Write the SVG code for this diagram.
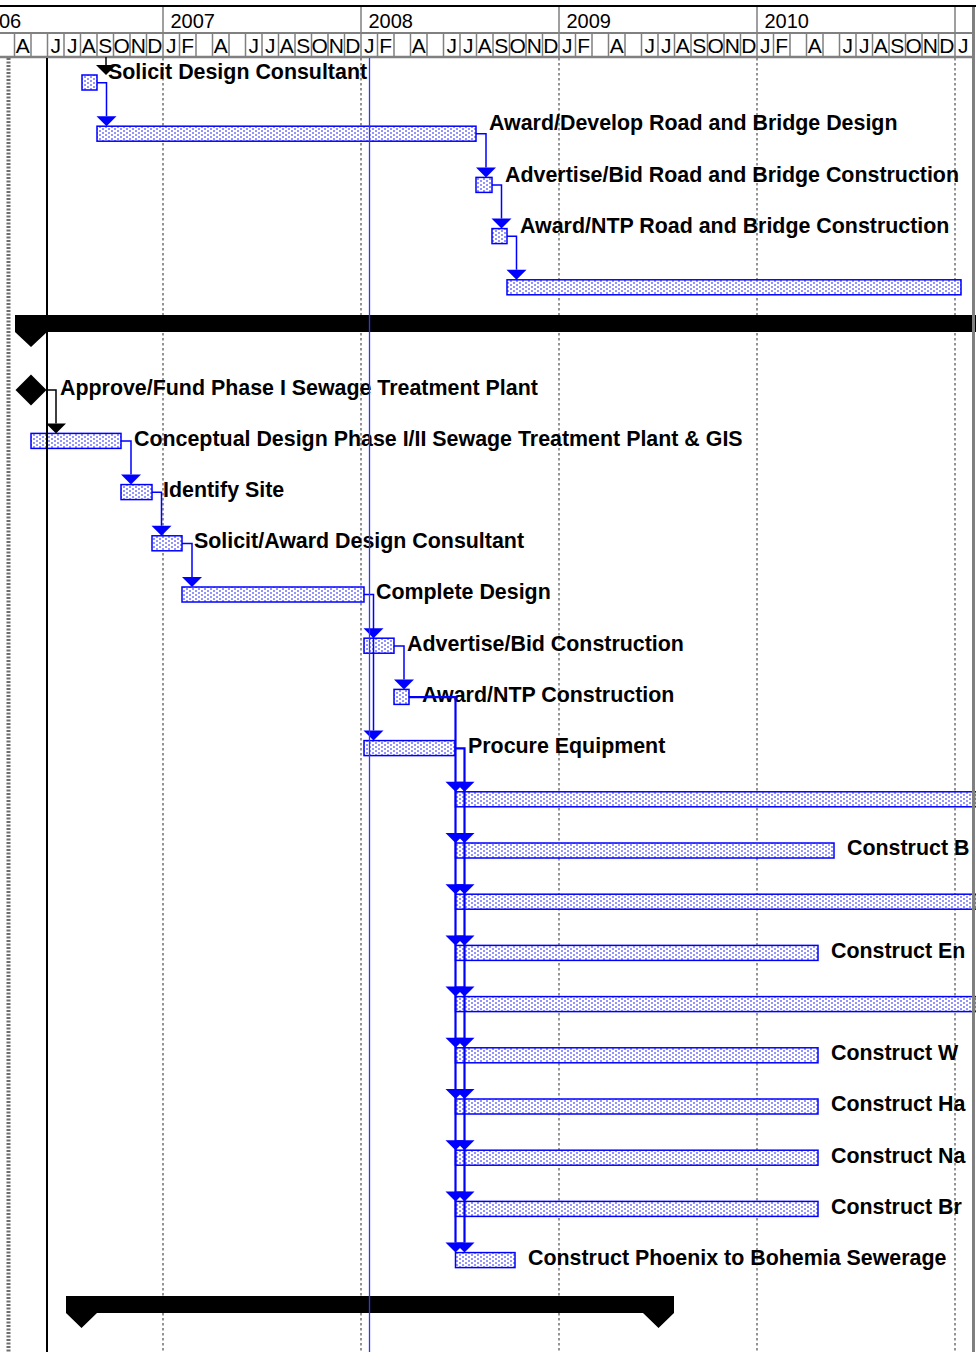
<svg xmlns="http://www.w3.org/2000/svg" width="976" height="1352" viewBox="0 0 976 1352">
<defs>
<pattern id="dots" width="6" height="4" patternUnits="userSpaceOnUse">
<rect width="6" height="4" fill="#fff"/>
<rect x="0" y="0.5" width="2" height="1" fill="#2a2aff"/>
<rect x="3" y="2.5" width="2" height="1" fill="#2a2aff"/>
</pattern>
</defs>
<style>
.bar{fill:url(#dots);stroke:#0000ff;stroke-width:1.5}
.lbl{font-family:"Liberation Sans",Arial,sans-serif;font-weight:bold;font-size:21.4px;fill:#000}
.hdr{font-family:"Liberation Sans",Arial,sans-serif;font-size:20px;fill:#000}
.mon{font-family:"Liberation Sans",Arial,sans-serif;font-size:21px;fill:#000;text-anchor:middle}
.grid{stroke:#7a7a7a;stroke-width:1.6;stroke-dasharray:2.5 2.5;fill:none}
.sep{stroke:#808080;stroke-width:1.5;fill:none}
.con{stroke:#0000ff;stroke-width:1.5;fill:none}
.con2{stroke:#0000ff;stroke-width:2.2;fill:none}
.arr{fill:#0000ff}
.blk{fill:#000}
</style>
<rect width="976" height="1352" fill="#fff"/>

<g id="timescale">
<line x1="0" y1="6" x2="976" y2="6" stroke="#000" stroke-width="2"/>
<path class="sep" d="M163,7V33M361,7V33M559,7V33M757,7V33M955,7V33"/>
<text class="hdr" x="-1" y="28">06</text>
<text class="hdr" x="170.5" y="28">2007</text>
<text class="hdr" x="368.5" y="28">2008</text>
<text class="hdr" x="566.5" y="28">2009</text>
<text class="hdr" x="764.5" y="28">2010</text>
<line x1="0" y1="33" x2="972" y2="33" stroke="#808080" stroke-width="2"/>
<path class="sep" d="M14.5,33V57M31,33V57M47.5,33V57M64,33V57M80.5,33V57M97,33V57M113.5,33V57M130,33V57M146.5,33V57M163,33V57M179.5,33V57M196,33V57M212.5,33V57M229,33V57M245.5,33V57M262,33V57M278.5,33V57M295,33V57M311.5,33V57M328,33V57M344.5,33V57M361,33V57M377.5,33V57M394,33V57M410.5,33V57M427,33V57M443.5,33V57M460,33V57M476.5,33V57M493,33V57M509.5,33V57M526,33V57M542.5,33V57M559,33V57M575.5,33V57M592,33V57M608.5,33V57M625,33V57M641.5,33V57M658,33V57M674.5,33V57M691,33V57M707.5,33V57M724,33V57M740.5,33V57M757,33V57M773.5,33V57M790,33V57M806.5,33V57M823,33V57M839.5,33V57M856,33V57M872.5,33V57M889,33V57M905.5,33V57M922,33V57M938.5,33V57M955,33V57"/>
<text class="mon" x="22.75" y="53">A</text>
<text class="mon" x="55.75" y="53">J</text>
<text class="mon" x="72.25" y="53">J</text>
<text class="mon" x="88.75" y="53">A</text>
<text class="mon" x="105.25" y="53">S</text>
<text class="mon" x="121.75" y="53">O</text>
<text class="mon" x="138.25" y="53">N</text>
<text class="mon" x="154.75" y="53">D</text>
<text class="mon" x="171.25" y="53">J</text>
<text class="mon" x="187.75" y="53">F</text>
<text class="mon" x="220.75" y="53">A</text>
<text class="mon" x="253.75" y="53">J</text>
<text class="mon" x="270.25" y="53">J</text>
<text class="mon" x="286.75" y="53">A</text>
<text class="mon" x="303.25" y="53">S</text>
<text class="mon" x="319.75" y="53">O</text>
<text class="mon" x="336.25" y="53">N</text>
<text class="mon" x="352.75" y="53">D</text>
<text class="mon" x="369.25" y="53">J</text>
<text class="mon" x="385.75" y="53">F</text>
<text class="mon" x="418.75" y="53">A</text>
<text class="mon" x="451.75" y="53">J</text>
<text class="mon" x="468.25" y="53">J</text>
<text class="mon" x="484.75" y="53">A</text>
<text class="mon" x="501.25" y="53">S</text>
<text class="mon" x="517.75" y="53">O</text>
<text class="mon" x="534.25" y="53">N</text>
<text class="mon" x="550.75" y="53">D</text>
<text class="mon" x="567.25" y="53">J</text>
<text class="mon" x="583.75" y="53">F</text>
<text class="mon" x="616.75" y="53">A</text>
<text class="mon" x="649.75" y="53">J</text>
<text class="mon" x="666.25" y="53">J</text>
<text class="mon" x="682.75" y="53">A</text>
<text class="mon" x="699.25" y="53">S</text>
<text class="mon" x="715.75" y="53">O</text>
<text class="mon" x="732.25" y="53">N</text>
<text class="mon" x="748.75" y="53">D</text>
<text class="mon" x="765.25" y="53">J</text>
<text class="mon" x="781.75" y="53">F</text>
<text class="mon" x="814.75" y="53">A</text>
<text class="mon" x="847.75" y="53">J</text>
<text class="mon" x="864.25" y="53">J</text>
<text class="mon" x="880.75" y="53">A</text>
<text class="mon" x="897.25" y="53">S</text>
<text class="mon" x="913.75" y="53">O</text>
<text class="mon" x="930.25" y="53">N</text>
<text class="mon" x="946.75" y="53">D</text>
<text class="mon" x="963.25" y="53">J</text>
<line x1="0" y1="57" x2="972" y2="57" stroke="#808080" stroke-width="2.5"/>
</g>

<g id="gridlines">
<line x1="8.5" y1="58" x2="8.5" y2="1352" stroke="#6e6e6e" stroke-width="4" stroke-dasharray="2 1.5"/>
<path class="grid" d="M163,58V1352M361,58V1352M559,58V1352M757,58V1352M955,58V1352"/>
</g>

<g id="task-solicit-design-consultant">
<rect class="bar" x="82" y="75" width="15" height="15"/>
<text class="lbl" x="108" y="79">Solicit Design Consultant</text>
</g>
<g id="task-award-develop-road-bridge-design">
<rect class="bar" x="97" y="126.2" width="379" height="15"/>
<text class="lbl" x="489" y="130">Award/Develop Road and Bridge Design</text>
</g>
<g id="task-advertise-bid-road-bridge">
<rect class="bar" x="476" y="177.4" width="16" height="15"/>
<text class="lbl" x="505" y="181.5">Advertise/Bid Road and Bridge Construction</text>
</g>
<g id="task-award-ntp-road-bridge">
<rect class="bar" x="492" y="228.6" width="15" height="15"/>
<text class="lbl" x="520" y="232.7">Award/NTP Road and Bridge Construction</text>
</g>
<g id="task-road-bridge-construction">
<rect class="bar" x="507" y="279.8" width="454" height="15"/>
</g>
<g id="summary-1">
<path class="blk" d="M15,315H976V332H47L31,347L15,332Z"/>
</g>
<g id="milestone-approve-fund">
<polygon class="blk" points="31,374.5 46.5,390 31,405.5 15.5,390"/>
<text class="lbl" x="60" y="395">Approve/Fund Phase I Sewage Treatment Plant</text>
</g>
<g id="task-conceptual-design">
<rect class="bar" x="31" y="433.4" width="90" height="15"/>
<text class="lbl" x="134" y="445.7">Conceptual Design Phase I/II Sewage Treatment Plant &amp; GIS</text>
</g>
<g id="task-identify-site">
<rect class="bar" x="121" y="484.6" width="31" height="15"/>
<text class="lbl" x="163" y="497">Identify Site</text>
</g>
<g id="task-solicit-award-design">
<rect class="bar" x="152" y="535.8" width="30" height="15"/>
<text class="lbl" x="194" y="548">Solicit/Award Design Consultant</text>
</g>
<g id="task-complete-design">
<rect class="bar" x="182" y="587" width="182" height="15"/>
<text class="lbl" x="376" y="599">Complete Design</text>
</g>
<g id="task-advertise-bid-construction">
<rect class="bar" x="364" y="638.2" width="30" height="15"/>
<text class="lbl" x="407" y="650.5">Advertise/Bid Construction</text>
</g>
<g id="task-award-ntp-construction">
<rect class="bar" x="394" y="689.4" width="15" height="15"/>
<text class="lbl" x="422" y="701.7">Award/NTP Construction</text>
</g>
<g id="task-procure-equipment">
<rect class="bar" x="364" y="740.6" width="91" height="15"/>
<text class="lbl" x="468" y="753">Procure Equipment</text>
</g>
<g id="task-construct-1">
<rect class="bar" x="455.5" y="791.8" width="521" height="15"/>
</g>
<g id="task-construct-b">
<rect class="bar" x="455.5" y="843" width="378.5" height="15"/>
<text class="lbl" x="847" y="855.3">Construct B</text>
</g>
<g id="task-construct-3">
<rect class="bar" x="455.5" y="894.2" width="521" height="15"/>
</g>
<g id="task-construct-en">
<rect class="bar" x="455.5" y="945.4" width="362.5" height="15"/>
<text class="lbl" x="831" y="957.7">Construct En</text>
</g>
<g id="task-construct-5">
<rect class="bar" x="455.5" y="996.6" width="521" height="15"/>
</g>
<g id="task-construct-w">
<rect class="bar" x="455.5" y="1047.8" width="362.5" height="15"/>
<text class="lbl" x="831" y="1060">Construct W</text>
</g>
<g id="task-construct-ha">
<rect class="bar" x="455.5" y="1099" width="362.5" height="15"/>
<text class="lbl" x="831" y="1111.3">Construct Ha</text>
</g>
<g id="task-construct-na">
<rect class="bar" x="455.5" y="1150.2" width="362.5" height="15"/>
<text class="lbl" x="831" y="1162.5">Construct Na</text>
</g>
<g id="task-construct-br">
<rect class="bar" x="455.5" y="1201.4" width="362.5" height="15"/>
<text class="lbl" x="831" y="1213.7">Construct Br</text>
</g>
<g id="task-construct-phoenix">
<rect class="bar" x="455.5" y="1252.6" width="59.5" height="15"/>
<text class="lbl" x="528" y="1264.9">Construct Phoenix to Bohemia Sewerage</text>
</g>
<g id="summary-2">
<path class="blk" d="M66,1296H674V1313L658.5,1328L643,1313H97L81.5,1328L66,1313Z"/>
</g>

<g id="connectors">
<path d="M106,57V65" stroke="#000" stroke-width="1.5" fill="none"/>
<polygon class="blk" points="96,65 116,65 106,75"/>
<path class="con" d="M97,82.7H106.5V116.2"/>
<polygon class="arr" points="96.5,116.2 116.5,116.2 106.5,126.2"/>
<path class="con" d="M476,133.7H486V167.4"/>
<polygon class="arr" points="476,167.4 496,167.4 486,177.4"/>
<path class="con" d="M492,185H501.5V218.6"/>
<polygon class="arr" points="491.5,218.6 511.5,218.6 501.5,228.6"/>
<path class="con" d="M507,236.2H516.5V269.8"/>
<polygon class="arr" points="506.5,269.8 526.5,269.8 516.5,279.8"/>
<path d="M46,390H56V423.4" stroke="#000" stroke-width="1.5" fill="none"/>
<polygon class="blk" points="46,423.4 66,423.4 56,433.4"/>
<path class="con" d="M121,441H131V474.6"/>
<polygon class="arr" points="121,474.6 141,474.6 131,484.6"/>
<path class="con" d="M152,492.2H161.5V525.8"/>
<polygon class="arr" points="151.5,525.8 171.5,525.8 161.5,535.8"/>
<path class="con" d="M182,543.4H192V577"/>
<polygon class="arr" points="182,577 202,577 192,587"/>
<path class="con" d="M364,594.6H373.5V730.6"/>
<polygon class="arr" points="363.5,628.2 383.5,628.2 373.5,638.2"/>
<polygon class="arr" points="363.5,730.6 383.5,730.6 373.5,740.6"/>
<path class="con" d="M394,646H404V679.4"/>
<polygon class="arr" points="394,679.4 414,679.4 404,689.4"/>
<path class="con2" d="M409,697.2H455.5V1242.6"/>
<path class="con2" d="M455,748.4H464.5V1242.6"/>
<polygon class="arr" points="445.5,781.8 465.5,781.8 455.5,791.8"/>
<polygon class="arr" points="454.5,781.8 474.5,781.8 464.5,791.8"/>
<polygon class="arr" points="445.5,833 465.5,833 455.5,843"/>
<polygon class="arr" points="454.5,833 474.5,833 464.5,843"/>
<polygon class="arr" points="445.5,884.2 465.5,884.2 455.5,894.2"/>
<polygon class="arr" points="454.5,884.2 474.5,884.2 464.5,894.2"/>
<polygon class="arr" points="445.5,935.4 465.5,935.4 455.5,945.4"/>
<polygon class="arr" points="454.5,935.4 474.5,935.4 464.5,945.4"/>
<polygon class="arr" points="445.5,986.6 465.5,986.6 455.5,996.6"/>
<polygon class="arr" points="454.5,986.6 474.5,986.6 464.5,996.6"/>
<polygon class="arr" points="445.5,1037.8 465.5,1037.8 455.5,1047.8"/>
<polygon class="arr" points="454.5,1037.8 474.5,1037.8 464.5,1047.8"/>
<polygon class="arr" points="445.5,1089 465.5,1089 455.5,1099"/>
<polygon class="arr" points="454.5,1089 474.5,1089 464.5,1099"/>
<polygon class="arr" points="445.5,1140.2 465.5,1140.2 455.5,1150.2"/>
<polygon class="arr" points="454.5,1140.2 474.5,1140.2 464.5,1150.2"/>
<polygon class="arr" points="445.5,1191.4 465.5,1191.4 455.5,1201.4"/>
<polygon class="arr" points="454.5,1191.4 474.5,1191.4 464.5,1201.4"/>
<polygon class="arr" points="445.5,1242.6 465.5,1242.6 455.5,1252.6"/>
<polygon class="arr" points="454.5,1242.6 474.5,1242.6 464.5,1252.6"/>
</g>

<g id="status-lines">
<line x1="47" y1="58" x2="47" y2="1352" stroke="#000" stroke-width="2"/>
<line x1="369.5" y1="58" x2="369.5" y2="1352" stroke="#3333ff" stroke-width="1.3"/>
</g>
<g id="border">
<line x1="973.5" y1="7" x2="973.5" y2="1352" stroke="#808080" stroke-width="3"/>
</g>
</svg>
